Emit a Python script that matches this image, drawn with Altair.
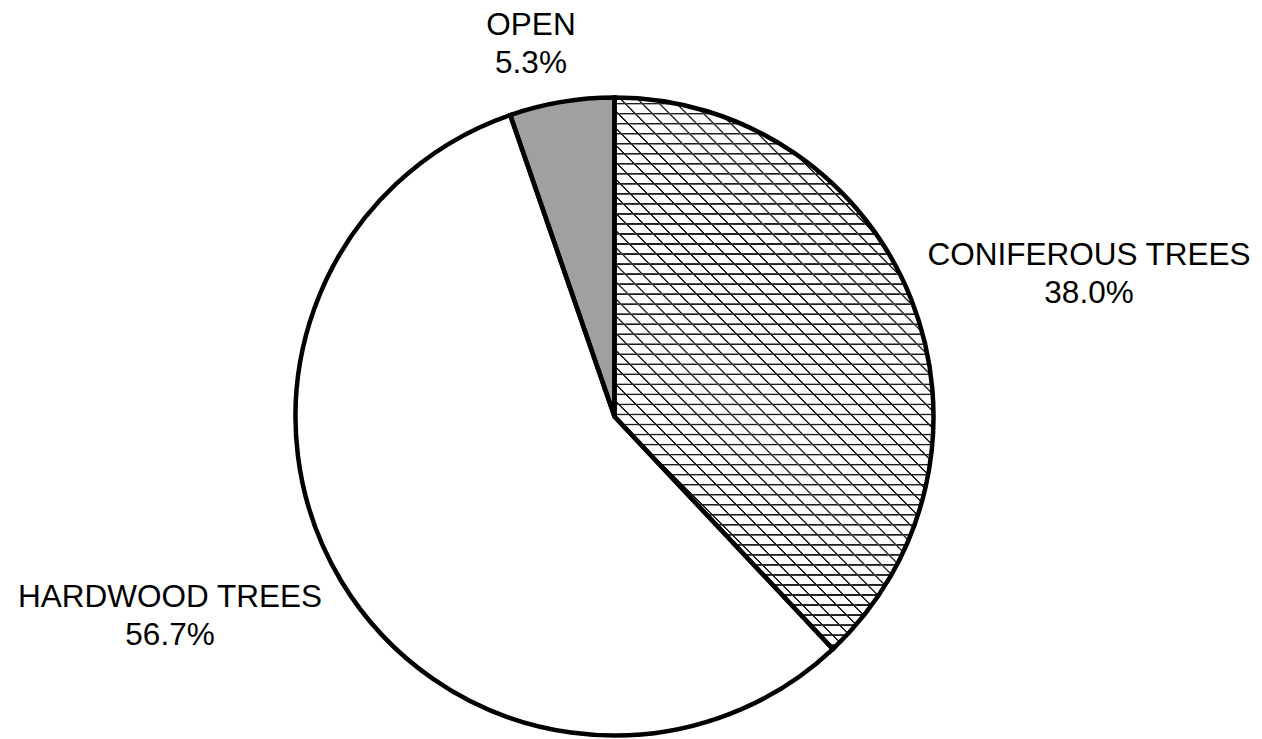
import math
import altair as alt
import pandas as pd

# ---- data ----
categories = ["CONIFEROUS TREES", "HARDWOOD TREES", "OPEN"]
shares = [38.0, 56.7, 5.3]
slice_order = [0, 1, 2]

# ---- style ----
fills = ["#ffffff", "#ffffff", "#a0a0a0"]
R = 319
CX, CY = 614.5, 416.5
PAD_L, PAD_T = CX - R, CY - R
W = H = 2 * R
FONT = "Liberation Sans"
FS = 31.5
LH = 38

df = pd.DataFrame({"cat": categories, "value": shares, "idx": slice_order})

# bounding box of the hatched (first) slice, for the gradient stripes
ang = shares[0] / sum(shares) * 2 * math.pi
bw = R if ang >= math.pi / 2 else R * math.sin(ang)
bh = R + (R if ang >= math.pi else max(0.0, -R * math.cos(ang)))

LINE = "#1e1e1e"


def stripe_stops(n, px_unit, bg, fg):
    # soft-edged thin lines: 0.6px ramp, 1.0px core, 0.6px ramp
    ramp = 0.6 * px_unit
    core = 1.0 * px_unit
    stops = [{"offset": 0, "color": bg}]
    for i in range(n):
        a = (i + 0.5) / n
        stops += [
            {"offset": a, "color": bg},
            {"offset": a + ramp, "color": fg},
            {"offset": a + ramp + core, "color": fg},
            {"offset": a + 2 * ramp + core, "color": bg},
        ]
    stops.append({"offset": 1, "color": bg})
    return stops


# horizontal rows (every ~10 px)
n_h = int(round(bh / 10))
grad_h = {
    "gradient": "linear",
    "x1": 0, "y1": 0, "x2": 0, "y2": 1,
    "stops": stripe_stops(n_h, 1.0 / bh, "#ffffff", LINE),
}
# diagonal (down-right) lines, every ~12 px
k = (bw + bh) / (bw ** 2 + bh ** 2)
span = bw + bh
n_d = int(round(span / (12 * math.sqrt(2))))
grad_d = {
    "gradient": "linear",
    "x1": 0, "y1": 1, "x2": bw * k, "y2": 1 - bh * k,
    "stops": stripe_stops(n_d, math.sqrt(2) / span, "rgba(255,255,255,0)", LINE),
}

base = alt.Chart(df)
theta = alt.Theta("value:Q", stack=True)
order = alt.Order("idx:Q")

fill_layer = base.mark_arc(radius=R, strokeWidth=0).encode(
    theta=theta,
    order=order,
    color=alt.Color("cat:N", scale=alt.Scale(domain=categories, range=fills), legend=None),
)

is_con = alt.datum.cat == categories[0]
hatch1 = base.mark_arc(radius=R, fill=grad_h, strokeWidth=0).encode(
    theta=theta, order=order,
    opacity=alt.condition(is_con, alt.value(1), alt.value(0)),
)
hatch2 = base.mark_arc(radius=R, fill=grad_d, strokeWidth=0).encode(
    theta=theta, order=order,
    opacity=alt.condition(is_con, alt.value(1), alt.value(0)),
)
outline = base.mark_arc(radius=R, fillOpacity=0, stroke="black", strokeWidth=4.5,
                        strokeJoin="miter").encode(theta=theta, order=order)

label_pos = {
    "OPEN": (531 - PAD_L, 35 - PAD_T),
    "CONIFEROUS TREES": (1089 - PAD_L, 265 - PAD_T),
    "HARDWOOD TREES": (170 - PAD_L, 607 - PAD_T),
}

labels = []
for c in categories:
    px, py = label_pos[c]
    labels.append(
        base.transform_filter(alt.datum.cat == c)
        .transform_calculate(lbl="datum.cat + '\\n' + format(datum.value, '.1f') + '%'")
        .mark_text(font=FONT, fontSize=FS, color="black", align="center",
                   baseline="alphabetic", lineBreak="\n", lineHeight=LH)
        .encode(x=alt.value(px), y=alt.value(py), text="lbl:N")
    )

chart = alt.layer(fill_layer, hatch1, hatch2, outline, *labels).properties(
    width=W, height=H,
    autosize=alt.AutoSizeParams(type="none"),
    padding={"left": PAD_L, "top": PAD_T, "right": 1262 - PAD_L - W, "bottom": 739 - PAD_T - H},
    background="white",
).configure_view(stroke=None)

chart.save("out.html", embed_options={"renderer": "svg", "actions": False})
